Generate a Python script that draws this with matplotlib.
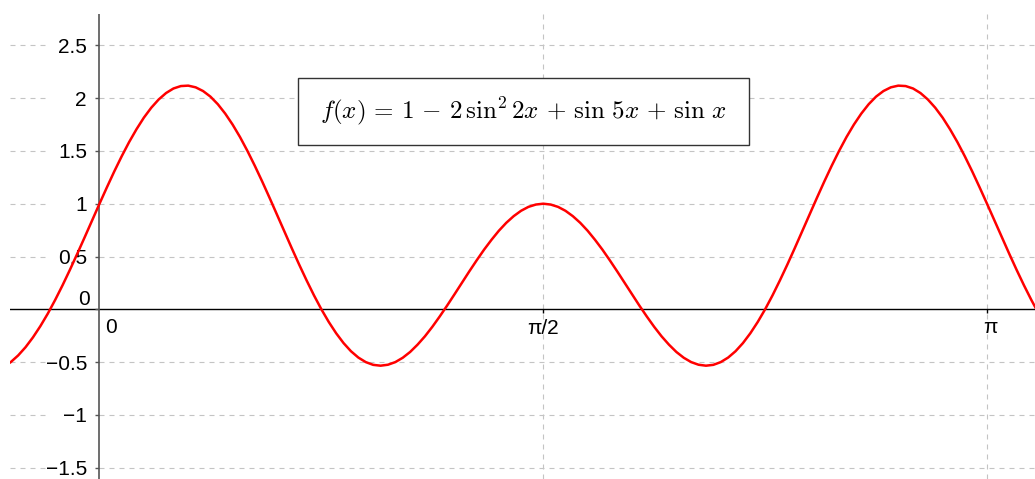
import numpy as np
import matplotlib
matplotlib.use("Agg")
import matplotlib.pyplot as plt
from matplotlib.patches import Rectangle

plt.rcParams['font.family'] = ['Liberation Sans', 'DejaVu Sans']
plt.rcParams['mathtext.fontset'] = 'cm'

# sample points of the curve, angle in degrees (1.5 degree step)
theta_deg = np.arange(-21, 195.1, 1.5)
f_vals = [
    # -21 .. -1.5
    -0.581, -0.548, -0.500, -0.437, -0.359, -0.266, -0.160, -0.042,
    0.088, 0.227, 0.374, 0.527, 0.683, 0.842,
    # 0 .. 45
    1.000, 1.155, 1.306, 1.449, 1.583, 1.705, 1.815, 1.909, 1.987, 2.048,
    2.091, 2.114, 2.118, 2.102, 2.067, 2.014, 1.942, 1.853, 1.749, 1.631,
    1.500, 1.359, 1.210, 1.055, 0.897, 0.737, 0.578, 0.423, 0.274, 0.132,
    0.000,
    # 46.5 .. 90
    -0.120, -0.227, -0.320, -0.397, -0.457, -0.500, -0.526, -0.534, -0.525,
    -0.500, -0.459, -0.404, -0.335, -0.256, -0.166, -0.068, 0.035, 0.142,
    0.251, 0.359, 0.464, 0.565, 0.658, 0.744, 0.819, 0.882, 0.933, 0.970,
    0.992, 1.000,
    # 91.5 .. 135
    0.992, 0.970, 0.933, 0.882, 0.819, 0.744, 0.658, 0.565, 0.464, 0.359,
    0.251, 0.142, 0.035, -0.068, -0.166, -0.256, -0.335, -0.404, -0.459,
    -0.500, -0.525, -0.534, -0.526, -0.500, -0.457, -0.397, -0.320, -0.227,
    -0.120, 0.000,
    # 136.5 .. 180
    0.132, 0.274, 0.423, 0.578, 0.737, 0.897, 1.055, 1.210, 1.359, 1.500,
    1.631, 1.749, 1.853, 1.942, 2.014, 2.067, 2.102, 2.118, 2.114, 2.091,
    2.048, 1.987, 1.909, 1.815, 1.705, 1.583, 1.449, 1.306, 1.155, 1.000,
    # 181.5 .. 195
    0.842, 0.683, 0.527, 0.374, 0.227, 0.088, -0.042, -0.160, -0.266, -0.359,
]

y_ticks = [-1.5, -1, -0.5, 0, 0.5, 1, 1.5, 2, 2.5]
y_labels = ['\u22121.5', '\u22121', '\u22120.5', '0', '0.5', '1', '1.5', '2', '2.5']
x_ticks = [0, np.pi / 2, np.pi]
x_labels = ['0', '\u03c0/2', '\u03c0']
formula = (r'$f(x) \,=\, 1 \,-\, 2\,\sin^2 2x \,+\, \sin\,5x'
           r' \,+\, \sin\,x$')

# pixel scale of the view
px_x = 282.5
px_y = 105.6
W, H = 1035, 479
x0_px, y0_px = 99.5, 309.3
left_px, top_px = 10, 14

fig = plt.figure(figsize=(W / 100, H / 100), dpi=100)
ax = fig.add_axes([left_px / W, 0, 1 - left_px / W, (H - top_px) / H])
xmin = (left_px - x0_px) / px_x
xmax = (W - x0_px) / px_x
ymax = (y0_px - top_px) / px_y
ymin = -(H - y0_px) / px_y
ax.set_xlim(xmin, xmax)
ax.set_ylim(ymin, ymax)
ax.axis('off')

grid_kw = dict(color='#c4c4c4', lw=0.8, linestyle=(0, (4.5, 4.5)), zorder=1)
gap_l = (45 - x0_px) / px_x
for v in y_ticks:
    if v == 0:
        continue
    ax.plot([xmin, gap_l], [v, v], **grid_kw)
    ax.plot([0, xmax], [v, v], **grid_kw)
for v in x_ticks[1:]:
    ax.plot([v, v], [ymin, ymax], **grid_kw)

# axes
ax.plot([xmin, xmax], [0, 0], color='black', lw=1.0, zorder=2)
ax.plot([0, 0], [ymin, ymax], color='#555555', lw=1.2, zorder=2)
ax.plot(np.zeros(len(y_ticks)), y_ticks, ls='none', marker=0, ms=3,
        mew=1, color='#555555', zorder=2)
ax.plot(x_ticks[1:], [0, 0], ls='none', marker=3, ms=3, mew=1,
        color='black', zorder=2)

# tick labels
for v, lab in zip(y_ticks, y_labels):
    off = (-9.5, 10) if v == 0 else (-12.5, -2)
    ax.annotate(lab, xy=(0, v), xytext=off, textcoords='offset pixels',
                ha='right', va='center', fontsize=15, color='black')
x_offs = [(12, -18), (0, -19), (3, -18)]
for v, lab, off in zip(x_ticks, x_labels, x_offs):
    ax.annotate(lab, xy=(v, 0), xytext=off, textcoords='offset pixels',
                ha='center', va='center', fontsize=15, color='black')

# curve
ax.plot(np.deg2rad(theta_deg), f_vals, color='#ff0000', lw=1.8,
        zorder=3, solid_capstyle='round', solid_joinstyle='round')

# formula box
bx0, bx1 = (298 - x0_px) / px_x, (749 - x0_px) / px_x
by0, by1 = (y0_px - 145) / px_y, (y0_px - 78) / px_y
ax.add_patch(Rectangle((bx0, by0), bx1 - bx0, by1 - by0, facecolor='white',
                       edgecolor='#333333', lw=1.0, zorder=4))
ax.text((bx0 + bx1) / 2, (by0 + by1) / 2, formula, ha='center', va='center',
        fontsize=18, color='black', zorder=5)

fig.savefig('out.png', dpi=100)
